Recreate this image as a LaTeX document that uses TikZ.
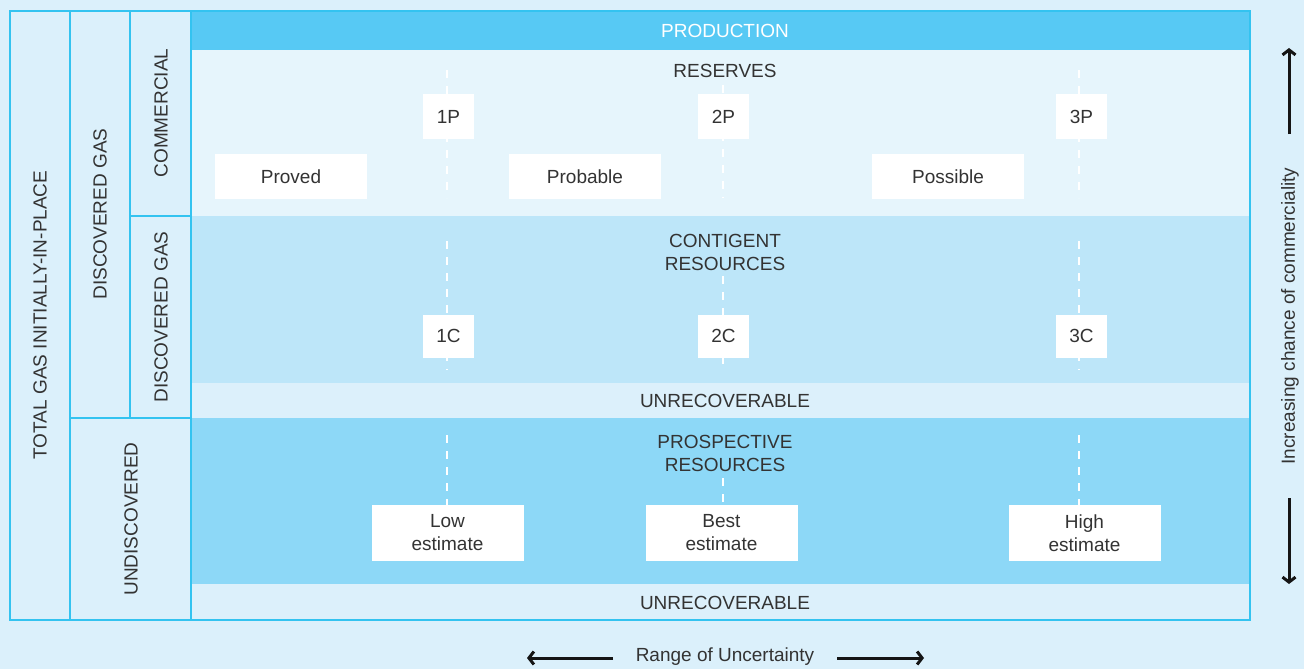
\documentclass[tikz,border=0pt]{standalone}
\usepackage{fontspec}
\setmainfont{Liberation Sans}
\usetikzlibrary{arrows.meta}
\definecolor{pagebg}{HTML}{DBF0FB}
\definecolor{gridline}{HTML}{33C3F0}
\definecolor{prodband}{HTML}{57C9F4}
\definecolor{resband}{HTML}{E6F5FC}
\definecolor{contband}{HTML}{BDE6F9}
\definecolor{unrecband}{HTML}{DCF0FB}
\definecolor{prospband}{HTML}{8DD8F7}
\definecolor{inktext}{HTML}{333333}
\definecolor{arrowink}{HTML}{151515}
\tikzset{
  txt/.style={font=\fontsize{19}{23}\selectfont, text=inktext, inner sep=0pt, align=center},
  sidelabel/.style={txt, rotate=90},
  valbox/.style={txt, fill=white, minimum width=152pt, minimum height=45pt},
  estbox/.style={txt, fill=white, minimum width=152pt, minimum height=56pt},
  pbox/.style={txt, fill=white, minimum width=51pt, minimum height=45pt},
  cbox/.style={txt, fill=white, minimum width=51pt, minimum height=43pt},
  guide/.style={white, line width=1.3pt, dash pattern=on 8pt off 8pt},
  frame/.style={gridline, line width=1.5pt},
  axisarrow/.style={draw=arrowink, line width=3pt, -{Straight Barb[length=5pt,width=13pt]}}
}
\begin{document}
\begin{tikzpicture}[x=1pt, y=-1pt]
\useasboundingbox (0,0) rectangle (1304,669);
\fill[pagebg] (0,0) rectangle (1304,669);

% horizontal bands of the main area
\fill[prodband]  (191,11)  rectangle (1250,50);
\fill[resband]   (191,50)  rectangle (1250,216);
\fill[contband]  (191,216) rectangle (1250,383);
\fill[unrecband] (191,383) rectangle (1250,418);
\fill[prospband] (191,418) rectangle (1250,584);
\fill[unrecband] (191,584) rectangle (1250,620);

% classification columns on the left
\draw[frame] (10,11) rectangle (1250,620);
\draw[frame] (70,11) -- (70,620);
\draw[frame] (130,11) -- (130,418);
\draw[frame] (191,11) -- (191,620);
\draw[frame] (130,216) -- (191,216);
\draw[frame] (70,418) -- (191,418);

\node[sidelabel] (tgiip) at (40,315) {TOTAL GAS INITIALLY-IN-PLACE};
\node[sidelabel] (disc)  at (100,214) {DISCOVERED GAS};
\node[sidelabel] (comm)  at (161,113) {COMMERCIAL};
\node[sidelabel] (disc2) at (161,317) {DISCOVERED GAS};
\node[sidelabel] (undisc) at (131,519) {UNDISCOVERED};

% band titles
\node[txt, text=white] (prod) at (725,31) {PRODUCTION};
\node[txt] (res) at (725,71) {RESERVES};
\node[txt] (cont) at (725,252) {CONTIGENT\\RESOURCES};
\node[txt] (unrec1) at (725,401) {UNRECOVERABLE};
\node[txt] (prosp) at (725,453) {PROSPECTIVE\\RESOURCES};
\node[txt] (unrec2) at (725,603) {UNRECOVERABLE};

% dashed guides behind the value boxes
\foreach \c/\x/\rt/\ct/\pt in {a/447/70/241/435, b/723/85/276/478, c/1079/70/241/435} {
  \coordinate (r\c top) at (\x,\rt);
  \coordinate (r\c bot) at (\x,198);
  \coordinate (c\c top) at (\x,\ct);
  \coordinate (c\c bot) at (\x,370);
  \coordinate (p\c top) at (\x,\pt);
  \coordinate (p\c bot) at (\x,505);
  \draw[guide] (r\c top) -- (r\c bot);
  \draw[guide] (c\c top) -- (c\c bot);
  \draw[guide] (p\c top) -- (p\c bot);
}

% reserves
\node[pbox] (onep) at (448.5,116.5) {1P};
\node[pbox] (twop) at (723.5,116.5) {2P};
\node[pbox] (threep) at (1081.5,116.5) {3P};
\node[valbox] (proved) at (291,176.5) {Proved};
\node[valbox] (probable) at (585,176.5) {Probable};
\node[valbox] (possible) at (948,176.5) {Possible};

% contingent resources
\node[cbox] (onec) at (448.5,336) {1C};
\node[cbox] (twoc) at (723.5,336) {2C};
\node[cbox] (threec) at (1081.5,336) {3C};

% prospective resources
\node[estbox] (low) at (447.5,533) {Low\\estimate};
\node[estbox] (best) at (721.5,533) {Best\\estimate};
\node[estbox] (high) at (1084.5,533) {High\\estimate};

% axes
\node[sidelabel] (comlabel) at (1290,316) {Increasing chance of commerciality};
\coordinate (upstart) at (1289,134);
\coordinate (upend) at (1289,48);
\coordinate (downstart) at (1289,498);
\coordinate (downend) at (1289,584);
\draw[axisarrow] (upstart) -- (upend);
\draw[axisarrow] (downstart) -- (downend);

\node[txt] (range) at (725,657) {Range of Uncertainty};
\coordinate (leftstart) at (613,658);
\coordinate (leftend) at (527,658);
\coordinate (rightstart) at (837,658);
\coordinate (rightend) at (924,658);
\draw[axisarrow] (leftstart) -- (leftend);
\draw[axisarrow] (rightstart) -- (rightend);
\end{tikzpicture}
\end{document}
